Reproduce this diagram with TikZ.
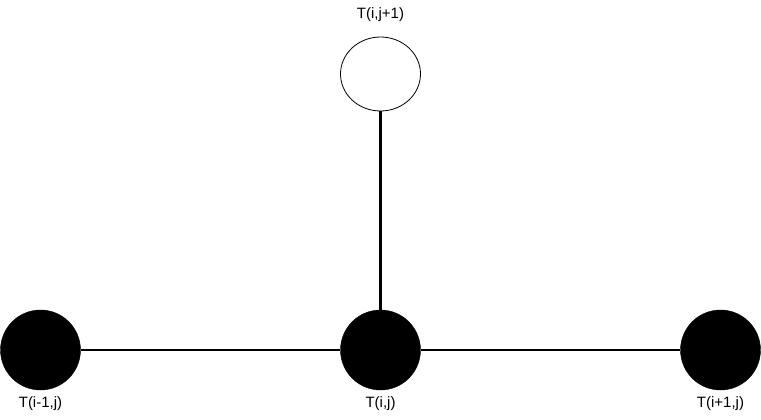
\documentclass[tikz,border=0pt]{standalone}
\usepackage{fontspec}
\setmainfont{Liberation Sans}
\usetikzlibrary{positioning,shapes.geometric}

\begin{document}
\begin{tikzpicture}[
  x=1pt, y=-1pt,
  filled/.style={circle, draw, fill=black, minimum size=80pt, inner sep=0pt},
  open/.style={ellipse, draw, line width=0.8pt, fill=white, minimum width=80pt, minimum height=74pt, inner sep=0pt},
  link/.style={line width=2.6pt},
  label/.style={font=\fontsize{15}{17}\selectfont, inner sep=0pt},
]
\useasboundingbox (0,0) rectangle (761,420);

% === Grid points ===
\node[filled] (left) at (40.5,350) {};
\node[filled] (mid) at (380.5,350) {};
\node[filled] (right) at (720.5,350) {};
\node[open] (top) at (380.5,74) {};

% === Links ===
\draw[link] (left) -- (mid);
\draw[link] (mid) -- (right);
\draw[link] (top) -- (mid);

% === Labels ===
\node[label] (ltop) at (380.5,15) {T(i,j+1)};
\node[label] (lleft) at (40.5,404) {T(i-1,j)};
\node[label] (lmid) at (380.5,404) {T(i,j)};
\node[label] (lright) at (720.5,404) {T(i+1,j)};

\end{tikzpicture}
\end{document}
